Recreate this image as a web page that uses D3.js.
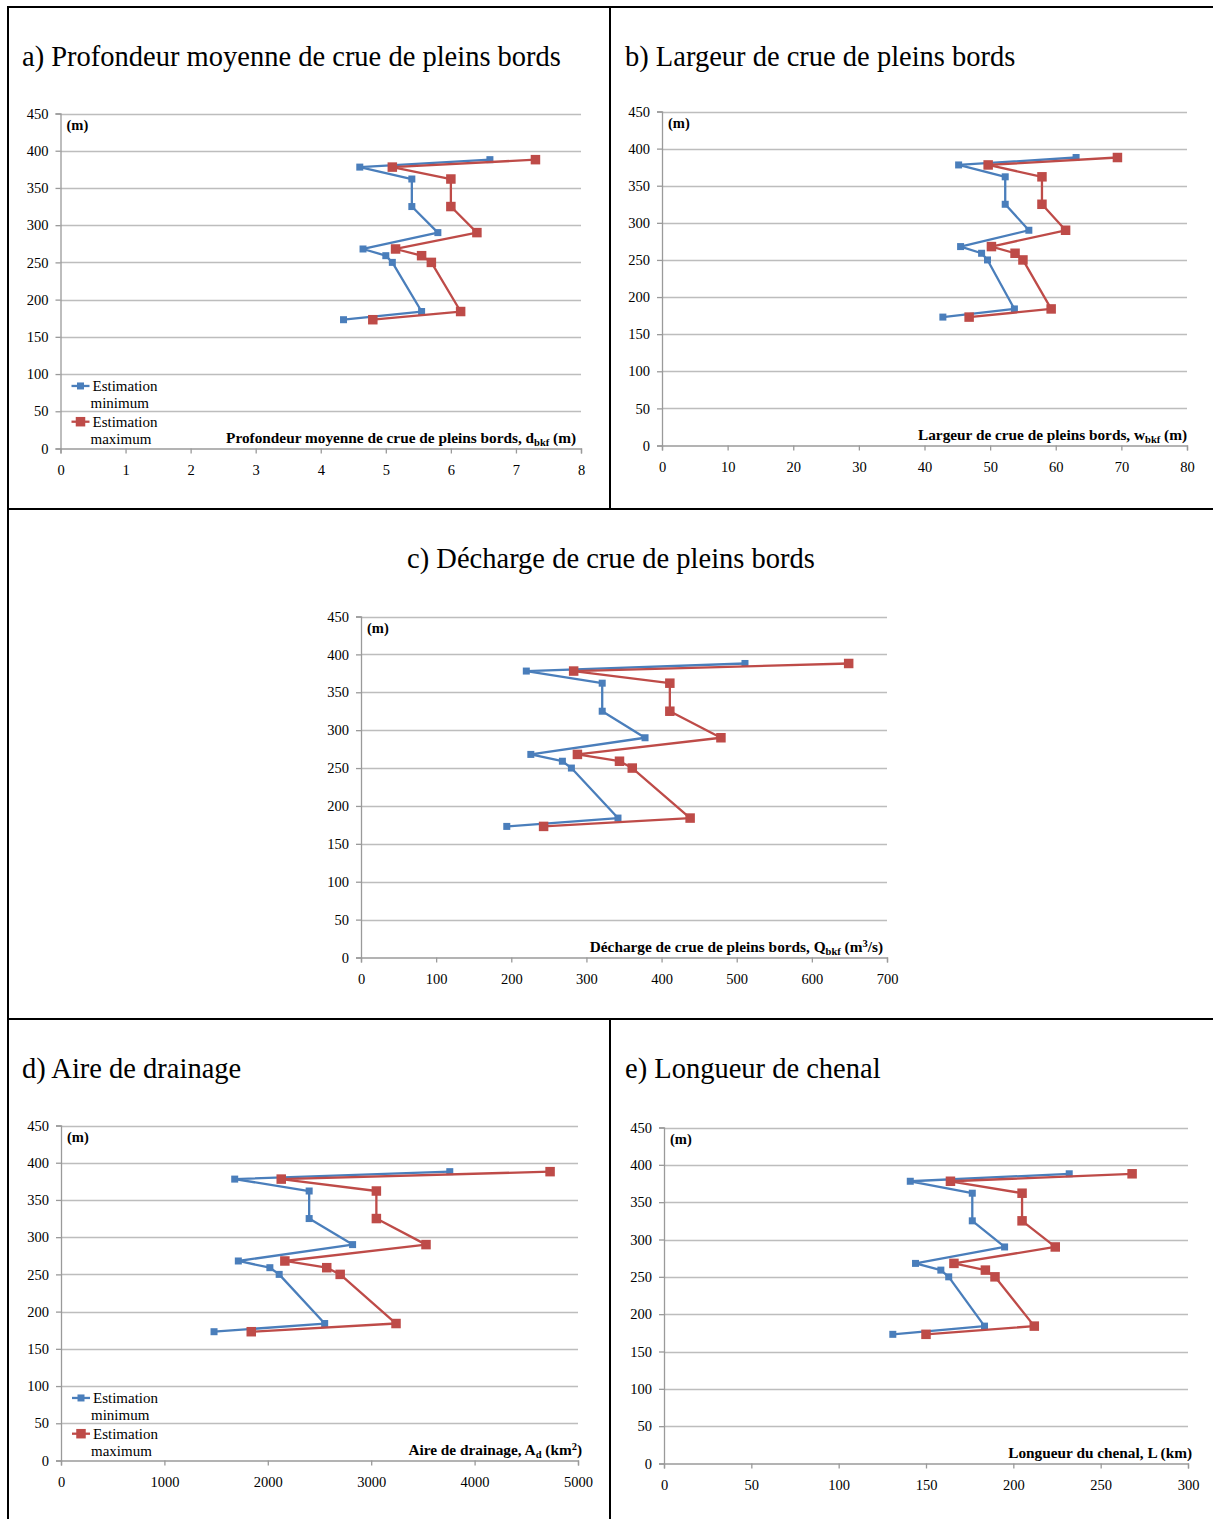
<!DOCTYPE html>
<html>
<head>
<meta charset="utf-8">
<script src="https://cdn.jsdelivr.net/npm/d3@7"></script>
<style>
  html, body { margin: 0; padding: 0; background: #fff; }
  svg { display: block; }
  text { font-family: "Liberation Serif", "DejaVu Serif", serif; fill: #000; }
</style>
</head>
<body>
<svg id="chart" width="1213" height="1519"></svg>
<script>
// ---------- DATA ----------
const elevations = [388, 378, 362, 325, 290, 268, 259, 250, 184, 173];
const yTicks = [0, 50, 100, 150, 200, 250, 300, 350, 400, 450];

const depthMin = [6.6, 4.6, 5.4, 5.4, 5.8, 4.65, 5.0, 5.1, 5.55, 4.35];
const depthMax = [7.3, 5.1, 6.0, 6.0, 6.4, 5.15, 5.55, 5.7, 6.15, 4.8];
const depthTicks = [0, 1, 2, 3, 4, 5, 6, 7, 8];

const widthMin = [63.1, 45.2, 52.3, 52.3, 55.9, 45.5, 48.7, 49.6, 53.7, 42.8];
const widthMax = [69.4, 49.7, 57.9, 57.9, 61.5, 50.2, 53.8, 55.0, 59.3, 46.8];
const widthTicks = [0, 10, 20, 30, 40, 50, 60, 70, 80];

const dischargeMin = [511, 220, 321, 321, 378, 226, 268, 280, 342, 194];
const dischargeMax = [649, 283, 411, 411, 479, 288, 344, 361, 438, 243];
const dischargeTicks = [0, 100, 200, 300, 400, 500, 600, 700];

const areaMin = [3760, 1680, 2400, 2400, 2820, 1715, 2020, 2110, 2550, 1480];
const areaMax = [4730, 2130, 3050, 3050, 3530, 2165, 2570, 2700, 3240, 1840];
const areaTicks = [0, 1000, 2000, 3000, 4000, 5000];

const lengthMin = [232, 141, 176.5, 176.5, 195, 144, 158.5, 163, 183.5, 131];
const lengthMax = [268, 164, 205, 205, 224, 166, 184, 189.5, 212, 150];
const lengthTicks = [0, 50, 100, 150, 200, 250, 300];

const seriesNames = ["Estimation minimum", "Estimation maximum"];
const yUnit = "(m)";

// ---------- LAYOUT ----------
const svg = d3.select("#chart");
const COLORS = ["#4a7ebb", "#be4b48"];
const MARK = [7, 9.5];
const TICK_FS = "14.5px";

// frame lines
const frame = [
  [8, 7, 1213, 7], [8, 6, 8, 1519],
  [610, 7, 610, 509], [610, 1019, 610, 1519],
  [8, 509, 1213, 509], [8, 1019, 1213, 1019]
];
svg.selectAll("line.frame").data(frame).enter().append("line")
  .attr("x1", d => d[0]).attr("y1", d => d[1]).attr("x2", d => d[2]).attr("y2", d => d[3])
  .attr("stroke", "#000").attr("stroke-width", 2);

const panels = [
  { title: "a) Profondeur moyenne de crue de pleins bords", tx: 22, ty: 66, anchor: "start",
    x0: 60.5, x1: 581, y0: 448.5, y1: 113.5, xMax: 8, ticks: depthTicks,
    mn: depthMin, mx: depthMax, legend: true, lx: 576,
    label: [["Profondeur moyenne de crue de pleins bords, d", 0], ["bkf", "sub"], [" (m)", 0]] },
  { title: "b) Largeur de crue de pleins bords", tx: 625, ty: 66, anchor: "start",
    x0: 662, x1: 1187, y0: 445.5, y1: 111.5, xMax: 80, ticks: widthTicks,
    mn: widthMin, mx: widthMax, legend: false, lx: 1187,
    label: [["Largeur de crue de pleins bords, w", 0], ["bkf", "sub"], [" (m)", 0]] },
  { title: "c) Décharge de crue de pleins bords", tx: 611, ty: 568, anchor: "middle",
    x0: 361, x1: 887, y0: 957.5, y1: 616.5, xMax: 700, ticks: dischargeTicks,
    mn: dischargeMin, mx: dischargeMax, legend: false, lx: 883,
    label: [["Décharge de crue de pleins bords, Q", 0], ["bkf", "sub"], [" (m", 0], ["3", "sup"], ["/s)", 0]] },
  { title: "d) Aire de drainage", tx: 22, ty: 1078, anchor: "start",
    x0: 61, x1: 578, y0: 1460.5, y1: 1125.5, xMax: 5000, ticks: areaTicks,
    mn: areaMin, mx: areaMax, legend: true, lx: 582,
    label: [["Aire de drainage, A", 0], ["d", "sub"], [" (km", 0], ["2", "sup"], [")", 0]] },
  { title: "e) Longueur de chenal", tx: 625, ty: 1078, anchor: "start",
    x0: 664, x1: 1188, y0: 1463.5, y1: 1127.5, xMax: 300, ticks: lengthTicks,
    mn: lengthMin, mx: lengthMax, legend: false, lx: 1192,
    label: [["Longueur du chenal, L (km)", 0]] }
];

panels.forEach(p => {
  const g = svg.append("g");
  const x = d3.scaleLinear().domain([0, p.xMax]).range([p.x0, p.x1]);
  const y = d3.scaleLinear().domain([0, 450]).range([p.y0, p.y1]);

  g.append("text").attr("x", p.tx).attr("y", p.ty).attr("text-anchor", p.anchor)
    .style("font-size", "28.5px").text(p.title);

  // gridlines
  g.selectAll("line.grid").data(yTicks.filter(t => t > 0)).enter().append("line")
    .attr("x1", p.x0).attr("x2", p.x1)
    .attr("y1", d => Math.round(y(d)) + 0.5).attr("y2", d => Math.round(y(d)) + 0.5)
    .attr("stroke", "#bdbdbd").attr("stroke-width", 1.3);

  // y axis
  const ya = g.append("g").attr("transform", `translate(${p.x0},0)`)
    .call(d3.axisLeft(y).tickValues(yTicks).tickSize(5).tickPadding(7).tickFormat(d3.format("d")));
  ya.select(".domain").attr("stroke", "#9a9a9a").attr("stroke-width", 1.3);
  ya.selectAll(".tick line").attr("stroke", "#9a9a9a").attr("stroke-width", 1.3);
  ya.selectAll("text").style("font-family", "Liberation Serif, serif").style("font-size", TICK_FS).attr("fill", "#000");

  // x axis
  const xa = g.append("g").attr("transform", `translate(0,${p.y0})`)
    .call(d3.axisBottom(x).tickValues(p.ticks).tickSize(5).tickPadding(11).tickFormat(d3.format("d")));
  xa.select(".domain").attr("stroke", "#9a9a9a").attr("stroke-width", 1.3);
  xa.selectAll(".tick line").attr("stroke", "#9a9a9a").attr("stroke-width", 1.3);
  xa.selectAll("text").style("font-family", "Liberation Serif, serif").style("font-size", TICK_FS).attr("fill", "#000");

  // unit label
  g.append("text").attr("x", p.x0 + 6).attr("y", p.y1 + 16)
    .style("font-size", "14.5px").style("font-weight", "bold").text(yUnit);

  // axis title
  const t = g.append("text").attr("x", p.lx).attr("y", p.y0 - 6).attr("text-anchor", "end")
    .style("font-size", "15.3px").style("font-weight", "bold");
  let shift = 0;
  p.label.forEach(([s, k]) => {
    const ts = t.append("tspan").text(s);
    if (k === "sub") { ts.attr("dy", 3 - shift).style("font-size", "10.5px"); shift = 3; }
    else if (k === "sup") { ts.attr("dy", -5 - shift).style("font-size", "10.5px"); shift = -5; }
    else { ts.attr("dy", -shift); shift = 0; }
  });

  // series
  const line = d3.line().x(d => x(d[0])).y(d => y(d[1]));
  [p.mn, p.mx].forEach((vals, si) => {
    const pts = vals.map((v, i) => [v, elevations[i]]);
    g.append("path").datum(pts).attr("d", line).attr("fill", "none")
      .attr("stroke", COLORS[si]).attr("stroke-width", 2.3).attr("stroke-linejoin", "round");
    g.selectAll(null).data(pts).enter().append("rect")
      .attr("x", d => x(d[0]) - MARK[si] / 2).attr("y", d => y(d[1]) - MARK[si] / 2)
      .attr("width", MARK[si]).attr("height", MARK[si]).attr("fill", COLORS[si]);
  });

  // legend
  if (p.legend) {
    seriesNames.forEach((name, si) => {
      const ly = y(84) + si * (y(36) - y(84));
      const lg = g.append("g");
      lg.append("line").attr("x1", p.x0 + 11).attr("x2", p.x0 + 29).attr("y1", ly).attr("y2", ly)
        .attr("stroke", COLORS[si]).attr("stroke-width", 2.3);
      lg.append("rect").attr("x", p.x0 + 20 - MARK[si] / 2).attr("y", ly - MARK[si] / 2)
        .attr("width", MARK[si]).attr("height", MARK[si]).attr("fill", COLORS[si]);
      const parts = name.split(" ");
      lg.append("text").attr("x", p.x0 + 32).attr("y", ly + 5).style("font-size", "15px").text(parts[0]);
      lg.append("text").attr("x", p.x0 + 30).attr("y", ly + 22).style("font-size", "15px").text(parts[1]);
    });
  }
});
</script>
</body>
</html>
